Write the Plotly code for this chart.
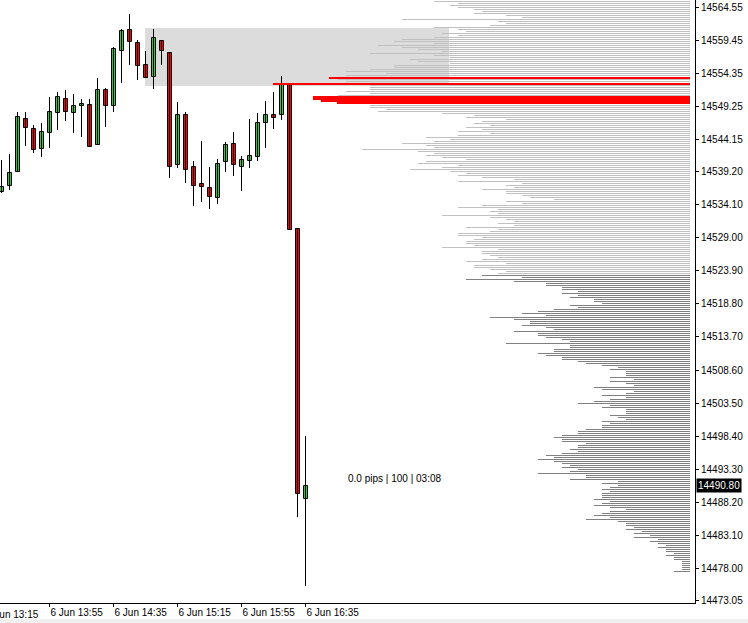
import plotly.graph_objects as go

# ---------------- data ----------------
OPEN = [14536.04, 14536.96, 14539.12, 14547.29, 14545.75, 14542.66, 14545.13, 14548.21, 14550.37, 14548.21,
        14549.29, 14549.45, 14543.28, 14551.76, 14549.29, 14557.77, 14561.01, 14559.00, 14555.61, 14553.76,
        14559.31, 14557.46, 14540.20, 14547.91, 14539.89, 14537.27, 14536.65, 14535.11, 14540.66, 14543.44,
        14539.89, 14540.82, 14541.43, 14546.67, 14547.91, 14547.91, 14552.68, 14530.33, 14488.72]
HIGH = [14540.97, 14541.89, 14548.37, 14548.37, 14546.36, 14546.67, 14550.68, 14551.45, 14551.76, 14551.14,
        14550.37, 14550.37, 14553.61, 14552.07, 14558.39, 14561.16, 14563.47, 14559.46, 14557.77, 14561.16,
        14559.46, 14557.46, 14549.91, 14548.37, 14540.82, 14543.90, 14539.89, 14541.12, 14543.74, 14545.28,
        14541.59, 14547.29, 14548.21, 14550.06, 14551.45, 14553.92, 14552.68, 14530.33, 14498.43]
LOW = [14535.88, 14536.35, 14539.12, 14543.13, 14542.05, 14541.43, 14542.82, 14545.59, 14546.98, 14545.13,
       14544.51, 14542.97, 14543.28, 14546.06, 14548.37, 14552.84, 14555.61, 14553.30, 14553.61, 14551.91,
       14555.61, 14538.19, 14539.74, 14537.42, 14533.88, 14534.50, 14533.42, 14534.19, 14539.12, 14538.50,
       14536.19, 14539.74, 14540.82, 14542.82, 14545.75, 14547.13, 14530.18, 14485.94, 14475.31]
CLOSE = [14536.81, 14538.97, 14547.60, 14545.90, 14542.51, 14545.28, 14548.37, 14550.68, 14548.37, 14549.29,
         14549.60, 14542.97, 14551.76, 14549.29, 14558.08, 14560.85, 14559.16, 14555.46, 14553.61, 14559.77,
         14557.77, 14539.89, 14547.91, 14539.43, 14536.96, 14536.81, 14535.27, 14540.35, 14543.28, 14540.20,
         14540.97, 14541.59, 14546.67, 14547.91, 14547.44, 14552.68, 14530.18, 14489.49, 14490.80]

TIME_TICK_INDEX = [-2, 6, 14, 22, 30, 38]
TIME_TICK_LABELS = ["6 Jun 13:15", "6 Jun 13:55", "6 Jun 14:35", "6 Jun 15:15", "6 Jun 15:55", "6 Jun 16:35"]

PRICE_TICKS = [14564.55, 14559.45, 14554.35, 14549.25, 14544.15, 14539.20, 14534.10, 14529.00, 14523.90,
               14518.80, 14513.70, 14508.60, 14503.50, 14498.40, 14493.30, 14488.20, 14483.10, 14478.00, 14473.05]

CURRENT_PRICE = 14490.80
INFO_TEXT = "0.0 pips | 100 | 03:08"

ZONE_X = [17.94, 55.94]
ZONE_Y = [14552.37, 14561.31]

# volume profile (price bins from the top, one bin per step)
PROFILE_TOP = 14565.40
PROFILE_STEP = 0.3082
PRIOR_VOLS = [256, 232, 240, 232, 216, 208, 216, 184, 168, 288,
              192, 184, 200, 256, 232, 224, 248, 232, 256, 288,
              296, 256, 312, 288, 272, 248, 320, 256, 240, 280,
              272, 240, 296, 296, 320, 344, 304, 344, 352, 352,
              344, 328, 320, 320, 320, 344, 320, 352, 352, 352,
              352, 320, 320, 320, 304, 312, 248, 216, 224, 184,
              208, 216, 200, 224, 208, 232, 200, 232, 264, 240,
              256, 288,
              264, 256, 328, 272, 256, 264, 248, 224, 264, 272,
              232, 248, 280, 240, 224, 232, 208, 176, 232, 168,
              184, 176, 208, 184, 184, 168, 160, 136, 184, 168,
              208, 232, 192, 200, 192, 248, 200, 184, 176, 192,
              176, 224, 192, 200, 232, 232, 208, 216, 224, 224,
              216, 248, 192, 208, 208, 200, 192, 208, 224, 184,
              216, 216, 200, 184, 192]
SESSION_VOLS = [208, 168, 224, 176, 144, 144, 128, 128,
                112, 128, 112, 120, 96, 96, 88, 120, 112, 136,
                152, 168, 144, 200, 176, 160, 160, 168, 144, 136,
                176, 152, 152, 144, 128, 120, 184, 120, 120, 136,
                136, 152, 144, 128, 128, 112, 104, 88, 72, 80,
                64, 64, 64, 80, 56, 80, 64, 56, 96, 88,
                56, 64, 88, 64, 80, 96, 112, 80, 88, 64,
                64, 64, 80, 72, 64, 88, 80, 88, 88, 104,
                112, 112,
                128, 136, 128, 128, 104, 112, 112, 120, 112, 128,
                144, 136, 152, 136, 128, 120, 128, 112, 120, 152,
                104, 104, 120, 72, 88, 72, 80, 88, 80, 88,
                88, 88, 96, 80, 88, 96, 80, 64, 80, 88,
                96, 80, 104, 72, 64, 64, 56, 64, 48, 56,
                40, 56, 32, 40, 32, 24, 32, 24, 24, 16,
                24, 16, 16, 8, 8, 8, 8, 8, 16]
HIGHLIGHT_PRICES = [14553.61, 14552.68, 14550.53, 14550.06, 14549.76]
HIGHLIGHT_VOLS = [361, 417, 377, 369, 353]

# ---------------- layout constants ----------------
W, H = 748, 623
M_L, M_R, M_T, M_B = 0, 53, 0, 20
PLOT_W = W - M_L - M_R
PLOT_H = H - M_T - M_B
Y_RANGE = [14472.70, 14565.63]
X_RANGE = [-0.1875, 86.6875]
PX_PER_PRICE = PLOT_H / (Y_RANGE[1] - Y_RANGE[0])
HIGHLIGHT_THICK_PX = [2, 2, 4, 2, 2]
FONT = "Liberation Sans, Arial, sans-serif"
BULL = "#32CD32"
BEAR = "#FF0000"

n = len(OPEN)
idx = list(range(n))

fig = go.Figure()

# ---- volume profile (drawn first, behind candles) ----
prior_prices = [PROFILE_TOP - i * PROFILE_STEP for i in range(len(PRIOR_VOLS))]
session_prices = [PROFILE_TOP - (len(PRIOR_VOLS) + i) * PROFILE_STEP for i in range(len(SESSION_VOLS))]
one_px = 1.0 / PX_PER_PRICE

fig.add_trace(go.Bar(orientation="h", y=prior_prices, x=PRIOR_VOLS, base=0, width=one_px,
                     marker=dict(color="rgba(192,192,192,0.999)", line=dict(width=0)),
                     xaxis="x2", yaxis="y", hoverinfo="skip", showlegend=False))
fig.add_trace(go.Bar(orientation="h", y=session_prices, x=SESSION_VOLS, base=0, width=one_px,
                     marker=dict(color="rgba(128,128,128,0.999)", line=dict(width=0)),
                     xaxis="x2", yaxis="y", hoverinfo="skip", showlegend=False))
fig.add_trace(go.Bar(orientation="h", y=HIGHLIGHT_PRICES, x=HIGHLIGHT_VOLS, base=0,
                     width=[t / PX_PER_PRICE for t in HIGHLIGHT_THICK_PX],
                     marker=dict(color="rgba(255,0,0,0.999)", line=dict(width=0)),
                     xaxis="x2", yaxis="y", hoverinfo="skip", showlegend=False))

# ---- candle wicks ----
wx, wy = [], []
for i in idx:
    wx += [i, i, None]
    wy += [LOW[i], HIGH[i], None]
fig.add_trace(go.Scatter(x=wx, y=wy, mode="lines", line=dict(color="black", width=1),
                         hoverinfo="skip", showlegend=False))

# ---- candle bodies ----
body_base = [min(o, c) for o, c in zip(OPEN, CLOSE)]
body_h = [abs(c - o) for o, c in zip(OPEN, CLOSE)]
body_col = [BULL if c >= o else BEAR for o, c in zip(OPEN, CLOSE)]
fig.add_trace(go.Bar(x=idx, y=body_h, base=body_base, width=0.5,
                     marker=dict(color=body_col, line=dict(color="black", width=1)),
                     hoverinfo="skip", showlegend=False))

# ---- shapes ----
shapes = [
    dict(type="rect", xref="x", yref="y", x0=ZONE_X[0], x1=ZONE_X[1], y0=ZONE_Y[0], y1=ZONE_Y[1],
         fillcolor="#DCDCDC", line=dict(width=0), layer="below"),
    dict(type="rect", xref="paper", yref="paper", x0=-0.05, x1=1.2,
         y0=-16 / PLOT_H, y1=-(M_B + 2) / PLOT_H,
         fillcolor="#F0F0F0", line=dict(width=0), layer="below"),
]

# ---- annotations ----
first_tick_paper = (TIME_TICK_INDEX[0] - X_RANGE[0]) / (X_RANGE[1] - X_RANGE[0])
annotations = [
    dict(x=1, xref="paper", y=CURRENT_PRICE, yref="y", text=f"{CURRENT_PRICE:.2f}",
         xanchor="left", yanchor="middle", showarrow=False, xshift=1,
         font=dict(family=FONT, size=10, color="white"), bgcolor="black", borderpad=1),
    dict(x=idx[-1] + 5, xref="x", y=CURRENT_PRICE, yref="y", text=INFO_TEXT,
         xanchor="left", yanchor="bottom", showarrow=False,
         font=dict(family=FONT, size=10, color="black")),
    dict(x=first_tick_paper, xref="paper", y=0, yref="paper", text=TIME_TICK_LABELS[0],
         xanchor="left", yanchor="top", showarrow=False, yshift=-4, xshift=-2,
         font=dict(family=FONT, size=10, color="black")),
]

fig.update_layout(
    width=W, height=H,
    margin=dict(l=M_L, r=M_R, t=M_T, b=M_B, autoexpand=False),
    paper_bgcolor="white", plot_bgcolor="white",
    barmode="overlay", bargap=0, bargroupgap=0,
    showlegend=False,
    shapes=shapes, annotations=annotations,
    xaxis=dict(range=X_RANGE, showgrid=False, zeroline=False, showline=True, linecolor="black",
               linewidth=1, ticks="outside", ticklen=3, tickcolor="black",
               tickvals=TIME_TICK_INDEX[1:], ticktext=TIME_TICK_LABELS[1:],
               ticklabelposition="outside right",
               tickfont=dict(family=FONT, size=10, color="black"), fixedrange=True),
    xaxis2=dict(overlaying="x", range=[PLOT_W - 5, -5], visible=False, fixedrange=True),
    yaxis=dict(range=Y_RANGE, side="right", showgrid=False, zeroline=False, showline=True,
               linecolor="black", linewidth=1, ticks="outside", ticklen=3, tickcolor="black",
               tickvals=PRICE_TICKS, ticktext=[f"{p:.2f}" for p in PRICE_TICKS],
               tickfont=dict(family=FONT, size=10, color="black"), fixedrange=True),
)

fig.write_html(
    "out.html",
    config={"displayModeBar": False},
    post_script="document.body.style.margin='0';document.body.style.overflow='hidden';",
)
